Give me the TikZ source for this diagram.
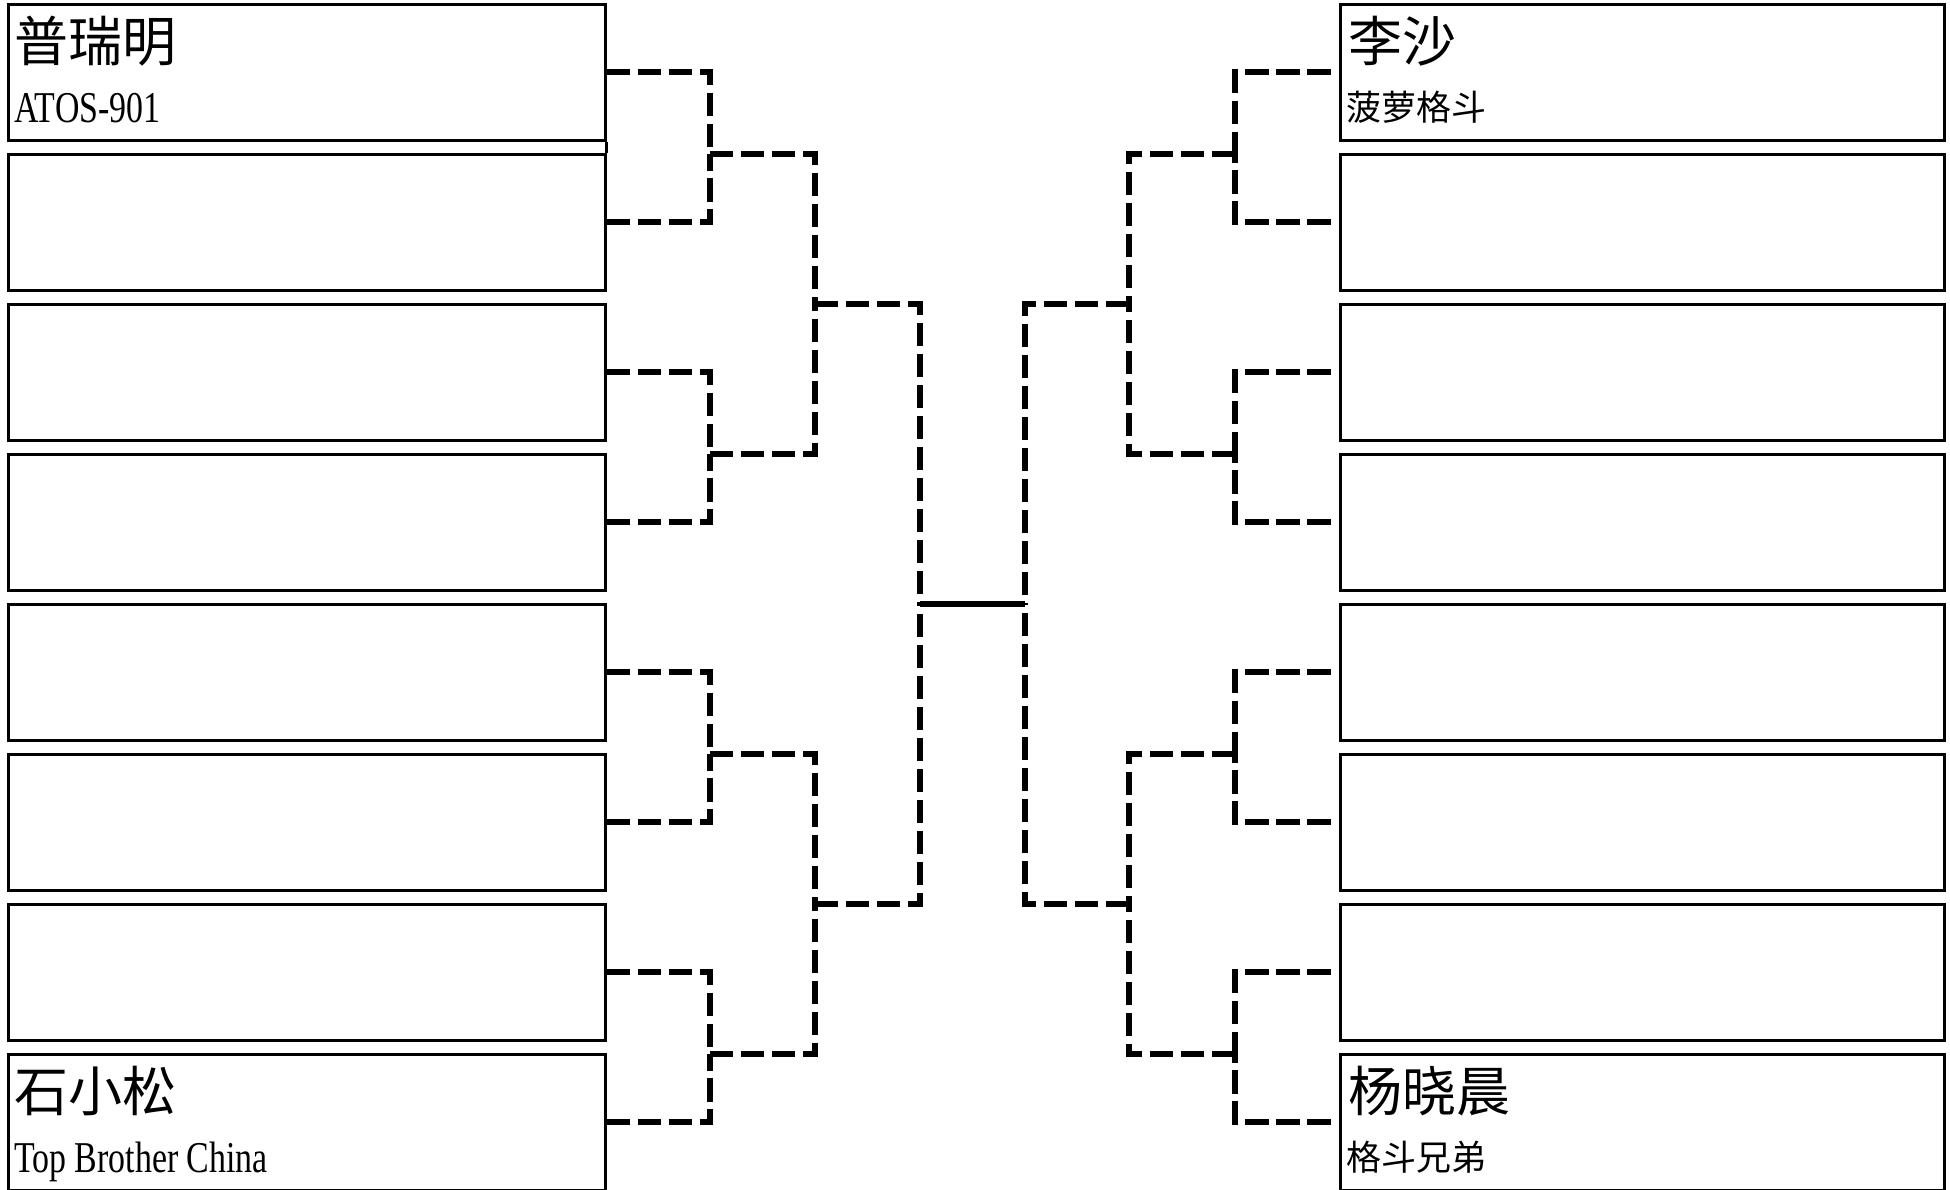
\documentclass[tikz,border=0pt]{standalone}
\usepackage{fontspec}
\setmainfont{Liberation Serif}
\newfontfamily\cjk{Noto Sans CJK SC}
\newfontfamily\latinsub[FakeStretch=0.77]{Liberation Serif}
\begin{document}
\begin{tikzpicture}[x=1pt,y=-1pt,
  box/.style={draw=black,line width=3pt,rectangle,inner sep=0pt,minimum height=136pt},
  lbox/.style={box,minimum width=597pt},
  rbox/.style={box,minimum width=604pt},
  link/.style={draw=black,line width=5.7pt,dash pattern=on 23.3pt off 7.7pt},
  final/.style={draw=black,line width=5.7pt},
  ttl/.style={inner sep=0pt,anchor=base west,font={\cjk\fontsize{54}{54}\selectfont}},
  subcjk/.style={inner sep=0pt,anchor=base west,font={\cjk\fontsize{35}{35}\selectfont}},
  sublat/.style={inner sep=0pt,anchor=base west,font={\latinsub\fontsize{44}{44}\selectfont}}]
\fill[white] (0,0) rectangle (1950,1189);
\useasboundingbox (0,0) rectangle (1950,1189);
% boxes
\foreach \k in {1,...,8}{
  \node[lbox] (L\k) at (306.5,{72+150*(\k-1)}) {};
  \node[rbox] (R\k) at (1642,{72+150*(\k-1)}) {};
}
\draw[line width=3pt] (L1.south east) -- (L2.north east);
% junctions left
\coordinate (jL12) at (710,154);
\coordinate (jL34) at (710,454);
\coordinate (jL56) at (710,754);
\coordinate (jL78) at (710,1054);
\coordinate (jLa) at (815,304);
\coordinate (jLb) at (815,904);
\coordinate (jLc) at (920,604);
% junctions right
\coordinate (jR12) at (1235,154);
\coordinate (jR34) at (1235,454);
\coordinate (jR56) at (1235,754);
\coordinate (jR78) at (1235,1054);
\coordinate (jRa) at (1129,304);
\coordinate (jRb) at (1129,904);
\coordinate (jRc) at (1025,604);
% left connectors
\draw[link] (L1.east) -| (jL12);
\draw[link] (L2.east) -| (jL12);
\draw[link] (L3.east) -| (jL34);
\draw[link] (L4.east) -| (jL34);
\draw[link] (L5.east) -| (jL56);
\draw[link] (L6.east) -| (jL56);
\draw[link] (L7.east) -| (jL78);
\draw[link] (L8.east) -| (jL78);
\draw[link] (jL12) -| (jLa);
\draw[link] (jL34) -| (jLa);
\draw[link] (jL56) -| (jLb);
\draw[link] (jL78) -| (jLb);
\draw[link] (jLa) -| (jLc);
\draw[link] (jLb) -| (jLc);
% right connectors
\draw[link] ([xshift=-8pt]R1.west) -| (jR12);
\draw[link] ([xshift=-8pt]R2.west) -| (jR12);
\draw[link] ([xshift=-8pt]R3.west) -| (jR34);
\draw[link] ([xshift=-8pt]R4.west) -| (jR34);
\draw[link] ([xshift=-8pt]R5.west) -| (jR56);
\draw[link] ([xshift=-8pt]R6.west) -| (jR56);
\draw[link] ([xshift=-8pt]R7.west) -| (jR78);
\draw[link] ([xshift=-8pt]R8.west) -| (jR78);
\draw[link] (jR12) -| (jRa);
\draw[link] (jR34) -| (jRa);
\draw[link] (jR56) -| (jRb);
\draw[link] (jR78) -| (jRb);
\draw[link] (jRa) -| (jRc);
\draw[link] (jRb) -| (jRc);
% final
\draw[final] (jLc) -- (jRc);
% texts
\node[ttl] (t1) at (14,61) {普瑞明};
\node[sublat] (s1) at (14,122) {ATOS-901};
\node[ttl] (t8) at (14,1111) {石小松};
\node[sublat] (s8) at (14,1172) {Top Brother China};
\node[ttl] (t9) at (1348,61) {李沙};
\node[subcjk] (s9) at (1346,120) {菠萝格斗};
\node[ttl] (t16) at (1348,1111) {杨晓晨};
\node[subcjk] (s16) at (1346,1170) {格斗兄弟};
\end{tikzpicture}
\end{document}
